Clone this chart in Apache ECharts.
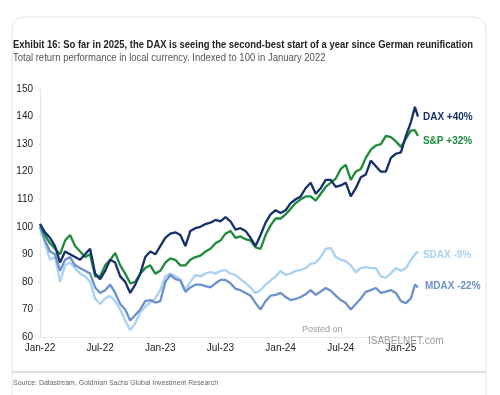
<!DOCTYPE html>
<html><head><meta charset="utf-8">
<script src="https://cdn.jsdelivr.net/npm/echarts@6/dist/echarts.min.js"></script>
<style>html,body{margin:0;padding:0;background:#fff}#c{width:500px;height:395px}</style>
</head><body><div id="c"></div>
<script>
// Half-month observation points (months since Jan 2022)
const months = [...Array(75)].map((_, i) => i / 2).concat([37.4, 37.7]);
const tickLabels = ["Jan-22","Jul-22","Jan-23","Jul-23","Jan-24","Jul-24","Jan-25"];
const dax = [101,98,96,93,87,91,90,89,88,90, 92,83,81,84,88,87,82,80,76,79, 83,89,91,90,93,96,97.5,98,97,93, 98.5,99.5,100,101,101.5,102.5,102,103.5,102,99, 99.5,98.5,96,93,97,101.5,104.5,106,105,106, 108.6,110,111,114,116,112,114,117,117,114.5, 115,116,111,114,118,119,124,122,120,120, 125,126.5,127,133,138,143.5,140];
const sp = [101,97,94,92,90,95,97,93,91,89, 90,82,82,86,88,90.5,86,83,79.5,80, 83,85,86,83,84,87,88.5,88,86,86, 88,89,89.5,91,92,94,95,97.5,98.5,96, 96.5,95.5,95,92.5,92,97,100.5,103,103,104.5, 106.5,108.6,110,111,111,109.5,112,114.5,116,117.5, 121,122.5,117,120,121,125,128,129.5,130,133, 132.5,131,129,132,135,135,133];
const sdax = [100,94,88,89,80,86,87,85,83,82, 80,74,72,74,75,73,70,66,62.5,65, 69,71,72.6,74,77,82,83,82,81,77, 80,82.5,82,83,83.6,83,84,84.3,83,82.5, 81,79.6,78,76,77,79,80.5,82,84,82.5, 83,84,84.3,85,86.5,87,89,92,92.3,89, 88,87.5,86,83.5,85,85.4,85,85,82,81.5, 83.2,85,84,85,88,90,91];
const mdax = [100,95,91,90,84,88,89,86,85,84, 83,78,76,77,79,76,72,70,66,68, 70,73,73.4,72.5,73,80,82.5,81,80.5,76.4, 78,79,79,78.5,78,79.5,80.7,80.7,79.5,77.5, 77,76,75,72.3,70,73,75,75.3,76,74.5, 73.4,73.8,74.5,75.5,77,75.3,76.5,77.8,76.8,75, 73.4,72.3,70,72,74,76.4,77,77.8,76,76.5, 77,76,73,72.3,74,79,78];
const seriesNames = ["SDAX","MDAX","S&P","DAX"];
const changes = ["-9%","-22%","+32%","+40%"];
const colors = ["#a9d1f2","#6c90c9","#1f8a3c","#16306a"];
const titleText = 'Exhibit 16: So far in 2025, the DAX is seeing the second-best start of a year since German reunification';
const subtitleText = 'Total return performance in local currency. Indexed to 100 in January 2022';
const sourceText = 'Source: Datastream, Goldman Sachs Global Investment Research';

const FONT = "'Liberation Sans',Arial,sans-serif";
const pair = arr => arr.map((v, i) => [months[i], v]);
const dataSets = [sdax, mdax, sp, dax];
const labelOffsets = [[0, 4], [2, -1], [0, 5], [0, 1]];

const chart = echarts.init(document.getElementById('c'), null, {renderer: 'canvas'});
chart.setOption({
  animation: false,
  backgroundColor: '#fff',
  textStyle: {fontFamily: FONT},
  graphic: [
    {type: 'rect', shape: {x: 12, y: 17, width: 474, height: 420, r: 12}, style: {fill: 'none', stroke: '#e4e4e4', lineWidth: 1}, silent: true},
    {type: 'line', shape: {x1: 12, y1: 372, x2: 486, y2: 372}, style: {stroke: '#bdbdbd', lineWidth: 1}},
    {type: 'text', x: 13, y: 45, scaleX: 0.857, style: {text: titleText, fill: '#222', font: 'bold 11px ' + FONT, textVerticalAlign: 'middle'}},
    {type: 'text', x: 13, y: 58, scaleX: 0.95, style: {text: subtitleText, fill: '#555', font: '10px ' + FONT, textVerticalAlign: 'middle'}},
    {type: 'text', x: 13, y: 383, scaleX: 0.87, style: {text: sourceText, fill: '#666', font: '8px ' + FONT, textVerticalAlign: 'middle'}},
    {type: 'text', left: 302, top: 325, style: {text: 'Posted on', fill: '#9a9a9a', font: '9px ' + FONT}, z: 100},
    {type: 'text', left: 368, top: 336, style: {text: 'ISABELNET.com', fill: '#9a9a9a', font: '10px ' + FONT}, z: 100}
  ],
  grid: {left: 40, right: 63, top: 89, bottom: 58},
  xAxis: {
    type: 'value', min: 0, max: 39.6, interval: 6,
    axisLine: {lineStyle: {color: '#e6e6e6'}},
    axisTick: {show: false},
    splitLine: {show: false},
    axisLabel: {color: '#222', fontSize: 10, fontFamily: FONT, margin: 6, showMaxLabel: false,
      formatter: v => tickLabels[Math.round(v / 6)] || ''}
  },
  yAxis: {
    type: 'value', min: 60, max: 150, interval: 10,
    axisLine: {show: true, lineStyle: {color: '#e6e6e6'}},
    axisTick: {show: true, length: 2, lineStyle: {color: '#e6e6e6'}},
    splitLine: {show: false},
    axisLabel: {color: '#222', fontSize: 10, fontFamily: FONT, margin: 7}
  },
  series: dataSets.map((arr, k) => ({
    name: seriesNames[k], type: 'line', data: pair(arr), showSymbol: false,
    lineStyle: {color: colors[k], width: 2.3}, itemStyle: {color: colors[k]},
    z: 2 + k,
    endLabel: {show: true, distance: 5, offset: labelOffsets[k],
      formatter: () => seriesNames[k] + ' ' + changes[k],
      color: colors[k], fontFamily: FONT, fontSize: 10, fontWeight: 'bold'}
  }))
});
</script></body></html>
